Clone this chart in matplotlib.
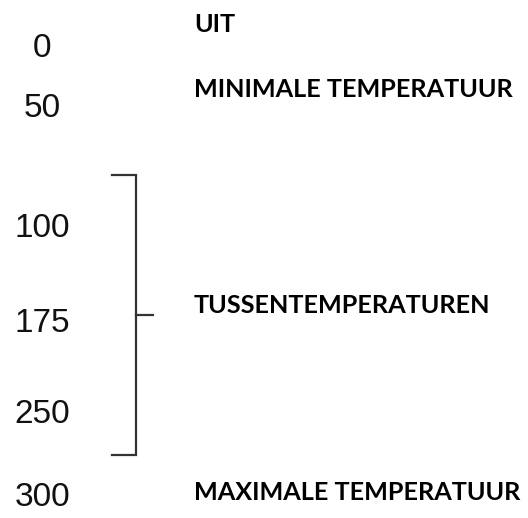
import matplotlib
matplotlib.use("Agg")
import matplotlib.pyplot as plt

# temperature settings and what they mean
temps = [0, 50, 100, 175, 250, 300]
labels = ["UIT", "MINIMALE TEMPERATUUR", "TUSSENTEMPERATUREN", "MAXIMALE TEMPERATUUR"]

# layout (pixel coordinates, y downwards, baselines)
temp_y = [57, 117, 237, 332, 423, 506]
label_y = [32, 97, 313, 500]
num_x = 42
label_x = 194
bracket = dict(x=136, top=175, bottom=455, mid=315, left=112, tick=153)

fig = plt.figure(figsize=(5.28, 5.18), dpi=100)
ax = fig.add_axes([0, 0, 1, 1])
ax.set_xlim(0, 528)
ax.set_ylim(518, 0)
ax.axis('off')

for t, y in zip(temps, temp_y):
    ax.text(num_x, y, str(t), ha='center', va='baseline', fontsize=24,
            family='Liberation Sans', color='#111111')

for lab, y in zip(labels, label_y):
    ax.text(label_x, y, lab, ha='left', va='baseline', fontsize=18.2,
            family='Lato', fontweight='bold', color='black')

b = bracket
lc = '#333333'
ax.plot([b['left'], b['x'], b['x'], b['left']], [b['top'], b['top'], b['bottom'], b['bottom']],
        color=lc, lw=1.6, solid_joinstyle='miter')
ax.plot([b['x'], b['tick']], [b['mid'], b['mid']], color=lc, lw=1.6)

fig.savefig("out.png", dpi=100)
